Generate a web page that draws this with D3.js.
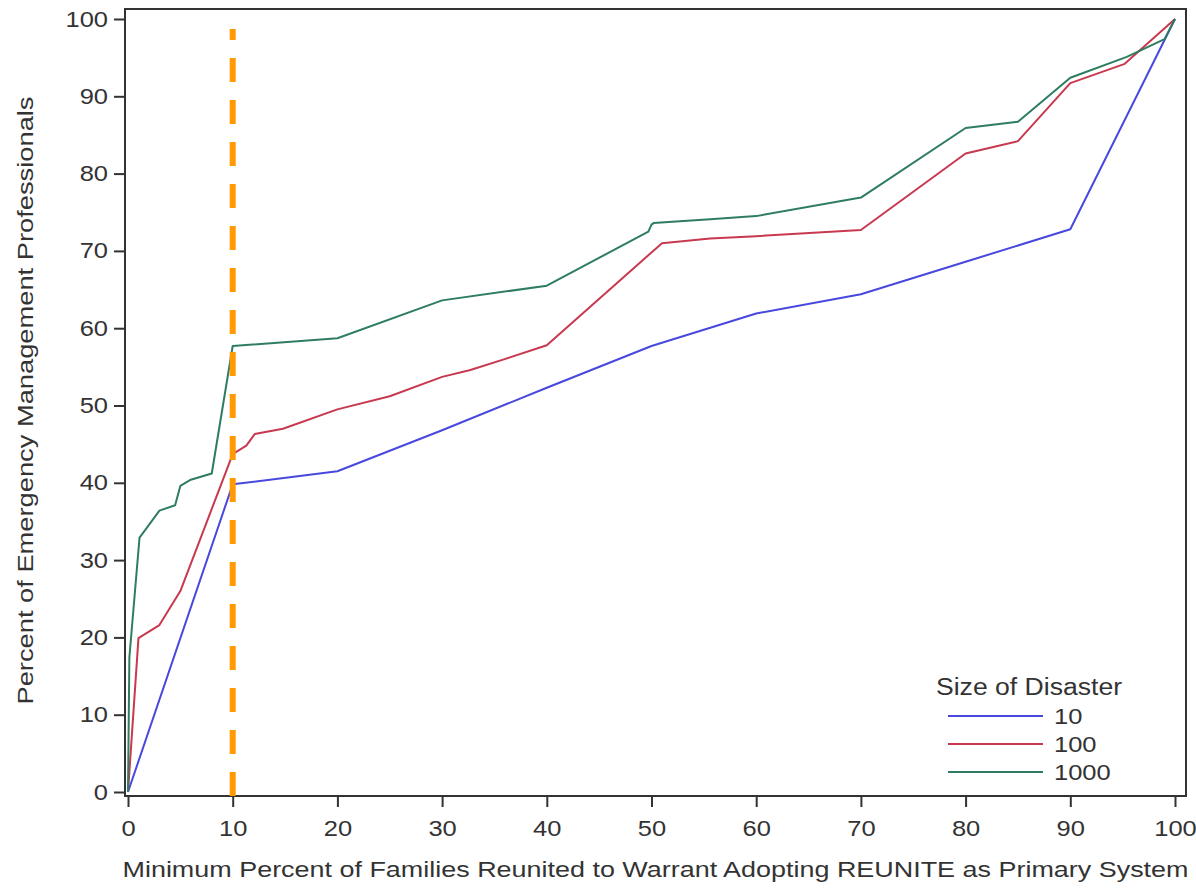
<!DOCTYPE html>
<html>
<head>
<meta charset="utf-8">
<script src="https://cdn.jsdelivr.net/npm/d3@7"></script>
<style>
  html, body { margin: 0; padding: 0; background: #fff; }
  svg { display: block; }
  text { font-family: "Liberation Sans", Arial, sans-serif; fill: #333; }
</style>
</head>
<body>
<svg id="chart" width="1196" height="888"></svg>
<script>
// ---- data ----
const xTicks = [0, 10, 20, 30, 40, 50, 60, 70, 80, 90, 100];
const yTicks = [0, 10, 20, 30, 40, 50, 60, 70, 80, 90, 100];

const seriesNames = ["10", "100", "1000"];

const x10 = [0, 10, 20, 30, 40, 50, 60, 70, 80, 90, 100];
const y10 = [0, 39.8, 41.5, 46.8, 52.3, 57.7, 61.9, 64.4, 68.6, 72.8, 100];

const x100 = [0, 1, 3, 5, 10, 11.3, 12.1, 14.8, 20, 25, 30, 32.7, 36.2, 40, 51, 55.6, 60, 70, 80, 85, 90, 95.2, 100];
const y100 = [0, 19.9, 21.6, 26, 43.7, 44.8, 46.3, 47.0, 49.5, 51.2, 53.7, 54.6, 56.1, 57.8, 71.0, 71.6, 71.9, 72.7, 82.6, 84.2, 91.7, 94.2, 100];

const x1000 = [0, 0.13, 1.1, 1.6, 3, 4.5, 5, 6, 8, 10, 20, 30, 40, 49.7, 50, 50.2, 55.6, 60, 70, 80, 85, 90, 95.4, 99, 100];
const y1000 = [0, 17.4, 32.9, 33.8, 36.4, 37.1, 39.6, 40.4, 41.2, 57.7, 58.7, 63.6, 65.5, 72.5, 73.4, 73.6, 74.1, 74.5, 76.9, 85.9, 86.7, 92.4, 95.1, 97.4, 100];

const refX = 10;          // vertical reference line
const refYTop = 98.7;

const xTitle = "Minimum Percent of Families Reunited to Warrant Adopting REUNITE as Primary System";
const yTitle = "Percent of Emergency Management Professionals";
const legendTitle = "Size of Disaster";

// ---- layout ----
const svg = d3.select("#chart");
const frame = { left: 125, top: 9, right: 1186, bottom: 796 };
const x = d3.scaleLinear().domain([0, 100]).range([128, 1175]);
const y = d3.scaleLinear().domain([0, 100]).range([792, 19]);
const colors = ["#4848de", "#c8394f", "#2e7d60"];
const fontSize = 22;
const stretch = 1.16;   // reference glyphs are horizontally wide

const series = [
  { name: seriesNames[0], xs: x10, ys: y10, color: colors[0] },
  { name: seriesNames[1], xs: x100, ys: y100, color: colors[1] },
  { name: seriesNames[2], xs: x1000, ys: y1000, color: colors[2] }
];

// frame
svg.append("rect")
  .attr("x", frame.left).attr("y", frame.top)
  .attr("width", frame.right - frame.left).attr("height", frame.bottom - frame.top)
  .attr("fill", "none").attr("stroke", "#333").attr("stroke-width", 2);

// axes
const xAxis = svg.append("g")
  .attr("transform", `translate(0,${frame.bottom})`)
  .call(d3.axisBottom(x).tickValues(xTicks).tickSize(11).tickPadding(13));
const yAxis = svg.append("g")
  .attr("transform", `translate(${frame.left},0)`)
  .call(d3.axisLeft(y).tickValues(yTicks).tickSize(11).tickPadding(6));
[xAxis, yAxis].forEach(g => {
  g.select(".domain").remove();
  g.selectAll(".tick line").attr("stroke", "#333").attr("stroke-width", 2);
  g.selectAll(".tick text")
    .attr("font-size", fontSize)
    .attr("font-family", '"Liberation Sans", Arial, sans-serif')
    .attr("fill", "#333")
    .attr("transform", `scale(${stretch},1)`);
});
yAxis.selectAll(".tick text").attr("x", -17 / stretch);

// lines
const line = d3.line().x(d => x(d[0])).y(d => y(d[1]));
series.forEach(s => {
  const pts = s.xs.map((v, i) => [v, s.ys[i]]);
  svg.append("path")
    .datum(pts)
    .attr("d", line)
    .attr("fill", "none")
    .attr("stroke", s.color)
    .attr("stroke-width", 2)
    .attr("stroke-linejoin", "round");
});

// reference line (drawn bottom up)
svg.append("line")
  .attr("x1", x(refX)).attr("x2", x(refX))
  .attr("y1", frame.bottom).attr("y2", y(refYTop))
  .attr("stroke", "#ff9a00")
  .attr("stroke-width", 6)
  .attr("stroke-dasharray", "24 18");

// axis titles
svg.append("text")
  .attr("x", (frame.left + frame.right) / 2)
  .attr("y", 877)
  .attr("text-anchor", "middle")
  .attr("font-size", fontSize)
  .attr("textLength", 1066)
  .attr("lengthAdjust", "spacingAndGlyphs")
  .text(xTitle);

svg.append("text")
  .attr("transform", `translate(33,${(frame.top + frame.bottom) / 2 - 2}) rotate(-90)`)
  .attr("text-anchor", "middle")
  .attr("font-size", fontSize)
  .attr("textLength", 608)
  .attr("lengthAdjust", "spacingAndGlyphs")
  .text(yTitle);

// legend
const lg = svg.append("g");
lg.append("text")
  .attr("x", 936).attr("y", 695)
  .attr("font-size", fontSize + 1)
  .attr("textLength", 186)
  .attr("lengthAdjust", "spacingAndGlyphs")
  .text(legendTitle);
series.forEach((s, i) => {
  const ly = 716 + i * 28;
  lg.append("line")
    .attr("x1", 948).attr("x2", 1043)
    .attr("y1", ly).attr("y2", ly)
    .attr("stroke", s.color).attr("stroke-width", 2);
  lg.append("text")
    .attr("transform", `translate(1054,${ly}) scale(${stretch},1)`)
    .attr("dy", "0.36em")
    .attr("font-size", fontSize)
    .text(s.name);
});
</script>
</body>
</html>
